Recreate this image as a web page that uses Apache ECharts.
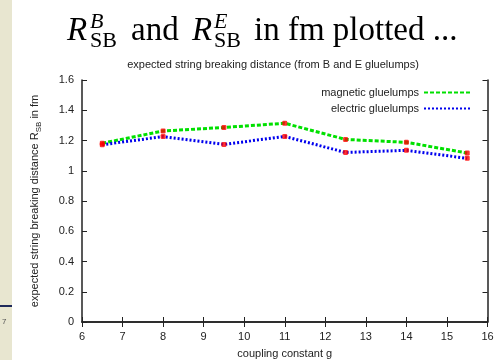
<!DOCTYPE html>
<html>
<head>
<meta charset="utf-8">
<script src="https://cdn.jsdelivr.net/npm/echarts@6/dist/echarts.min.js"></script>
<style>
  html, body { margin: 0; padding: 0; background: #fff; }
  #chart { width: 498px; height: 360px; }
</style>
</head>
<body>
<div id="chart"></div>
<script>
// coupling constant g
const couplings = [6.5, 8, 9.5, 11, 12.5, 14, 15.5];
// expected string breaking distance in fm
const magnetic = [1.182, 1.263, 1.286, 1.314, 1.207, 1.188, 1.117];
const electric = [1.172, 1.226, 1.174, 1.227, 1.121, 1.135, 1.082];
const xTicks = [6, 16, 1];
const yTicks = [0, 1.6, 0.2];

const sans = "Liberation Sans, Arial, sans-serif";
const serif = "Liberation Serif, Times New Roman, serif";
const ink = "#222";

function pairs(ys) {
  return couplings.map((g, i) => [g, ys[i]]);
}

function titlePiece(x, y, text, size, italic) {
  return {
    type: "text",
    x: x,
    y: y,
    style: {
      text: text,
      font: (italic ? "italic " : "") + size + "px " + serif,
      fill: "#000",
      verticalAlign: "middle",
    },
  };
}

const chart = echarts.init(document.getElementById("chart"), null, { renderer: "canvas" });

const frameAxis = {
  axisLine: { show: true, lineStyle: { color: ink, width: 1.5 } },
  axisTick: { show: true, inside: true, length: 5, lineStyle: { color: ink } },
  splitLine: { show: false },
};

chart.setOption({
  animation: false,
  title: {
    text: "expected string breaking distance (from B and E gluelumps)",
    left: 268,
    top: 54,
    textAlign: "center",
    textStyle: { fontFamily: sans, fontSize: 11, fontWeight: "normal", color: ink },
  },
  graphic: [
    { type: "rect", shape: { x: 0, y: 0, width: 12, height: 360 }, style: { fill: "#e8e6d0" } },
    { type: "rect", shape: { x: 0, y: 305, width: 12, height: 2 }, style: { fill: "#1f2a5a" } },
    { type: "text", x: 2, y: 318, style: { text: "7", font: "8px " + sans, fill: "#555" } },
    titlePiece(67, 31, "R", 33, true),
    titlePiece(90, 22, "B", 22, true),
    titlePiece(90, 41, "SB", 22, false),
    titlePiece(131, 31, "and", 33, false),
    titlePiece(192, 31, "R", 33, true),
    titlePiece(214, 22, "E", 22, true),
    titlePiece(214, 41, "SB", 22, false),
    titlePiece(254, 31, "in fm plotted ...", 33, false),
  ],
  legend: {
    right: 20,
    top: 82,
    orient: "vertical",
    align: "right",
    itemWidth: 48,
    itemHeight: 10,
    itemGap: 5,
    textStyle: { fontFamily: sans, fontSize: 11, color: ink },
    data: [
      { name: "magnetic gluelumps", itemStyle: { opacity: 0 } },
      { name: "electric gluelumps", itemStyle: { opacity: 0 } },
    ],
  },
  grid: { left: 82, right: 10.5, top: 80, bottom: 38, outerBoundsMode: "none" },
  xAxis: [
    Object.assign({
      type: "value",
      min: xTicks[0],
      max: xTicks[1],
      interval: xTicks[2],
      position: "bottom",
      name: "coupling constant g",
      nameLocation: "middle",
      nameGap: 26,
      nameTextStyle: { fontFamily: sans, fontSize: 11, color: ink },
      axisLabel: { fontFamily: sans, fontSize: 11, color: ink, margin: 9 },
    }, frameAxis),
    Object.assign({
      type: "value",
      min: xTicks[0],
      max: xTicks[1],
      interval: xTicks[2],
      position: "top",
      axisLabel: { show: false },
    }, frameAxis),
  ],
  yAxis: [
    Object.assign({
      type: "value",
      min: yTicks[0],
      max: yTicks[1],
      interval: yTicks[2],
      position: "left",
      name: "expected string breaking distance R{sub|SB} in fm",
      nameLocation: "middle",
      nameRotate: 90,
      nameGap: 39,
      nameTextStyle: {
        fontFamily: sans,
        fontSize: 11,
        color: ink,
        rich: { sub: { fontFamily: sans, fontSize: 8, color: ink, verticalAlign: "bottom", lineHeight: 16 } },
      },
      axisLabel: { fontFamily: sans, fontSize: 11, color: ink, margin: 8 },
    }, frameAxis),
    Object.assign({
      type: "value",
      min: yTicks[0],
      max: yTicks[1],
      interval: yTicks[2],
      position: "right",
      axisLabel: { show: false },
    }, frameAxis),
  ],
  series: [
    {
      name: "magnetic gluelumps",
      type: "line",
      data: pairs(magnetic),
      symbol: "none",
      lineStyle: { color: "#00e000", width: 3, type: [4, 2] },
      itemStyle: { color: "#00e000" },
      z: 2,
    },
    {
      name: "electric gluelumps",
      type: "line",
      data: pairs(electric),
      symbol: "none",
      lineStyle: { color: "#0000ee", width: 3, type: [2, 2] },
      itemStyle: { color: "#0000ee" },
      z: 2,
    },
    {
      type: "scatter",
      data: pairs(magnetic).concat(pairs(electric)),
      symbol: "roundRect",
      symbolSize: 5,
      itemStyle: { color: "#ff0000" },
      z: 3,
    },
  ],
});
</script>
</body>
</html>
